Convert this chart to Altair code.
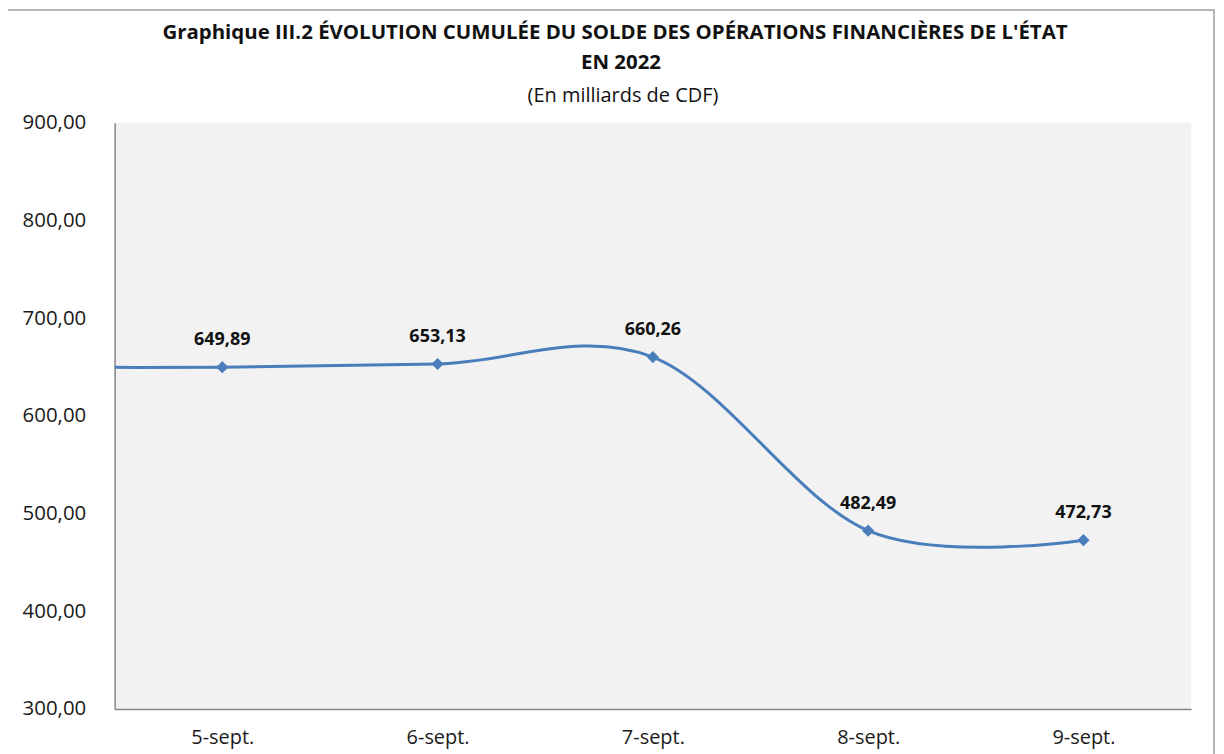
import json
import altair as alt
import pandas as pd

categories = ["5-sept.", "6-sept.", "7-sept.", "8-sept.", "9-sept."]
values = [649.89, 653.13, 660.26, 482.49, 472.73]
# the source curve enters from the left edge at the level of the first point
lead_in_value = 649.89
y_ticks = [300, 400, 500, 600, 700, 800, 900]
title_lines = ["Graphique III.2 ÉVOLUTION CUMULÉE DU SOLDE  DES OPÉRATIONS FINANCIÈRES DE L'ÉTAT",
               "EN 2022"]
subtitle = "(En milliards de CDF)"

idx = list(range(len(categories)))
pts = pd.DataFrame({"i": idx, "v": values, "cat": categories})
pts["lab"] = [f"{v:.2f}".replace(".", ",") for v in values]
line_df = pd.DataFrame({"i": [-1] + idx, "v": [lead_in_value] + values})

BLUE = "#4a7ebb"
W, H = 1080, 588
label_expr = json.dumps(categories) + "[datum.value]"

x = alt.X("i:Q", scale=alt.Scale(domain=[-0.5, 4.5], nice=False, zero=False),
          axis=alt.Axis(values=idx, labelExpr=label_expr, title=None, grid=False,
                        ticks=False, domainColor="#868686", domainWidth=1.5,
                        labelFont="Open Sans", labelFontSize=20, labelColor="#1a1a1a",
                        labelPadding=19, labelAngle=0))
y = alt.Y("v:Q", scale=alt.Scale(domain=[300, 900], nice=False, zero=False),
          axis=alt.Axis(values=y_ticks, labelExpr="replace(format(datum.value, '.2f'), '.', ',')",
                        title=None, grid=False, ticks=False, domainColor="#868686",
                        domainWidth=1.5, labelFont="Open Sans", labelFontSize=20.5,
                        labelColor="#1a1a1a", labelPadding=29))

line = alt.Chart(line_df).mark_line(interpolate="cardinal", color=BLUE, strokeWidth=3,
                                    clip=True).encode(x=x, y=y)
marks = alt.Chart(pts).mark_point(shape="diamond", filled=True, size=150, color=BLUE,
                                  opacity=1).encode(x=x, y=y)
labels = alt.Chart(pts).mark_text(font="Open Sans", fontWeight="bold", fontSize=18,
                                  color="#111111", dy=-27, baseline="middle").encode(
    x=x, y=y, text="lab:N")
frame = alt.Chart(pts).mark_rect(fill=None, stroke="#b3b3b3", strokeWidth=1.5,
                                 clip=False).encode(
    x=alt.value(-108), x2=alt.value(W + 23), y=alt.value(-113), y2=alt.value(H + 80))

title_df = pd.DataFrame({"t": title_lines, "xx": [502, 508], "yy": [-90, -60]})
sub_df = pd.DataFrame({"t": [subtitle], "xx": [510], "yy": [-27]})
titles = alt.Chart(title_df).mark_text(font="Open Sans", fontSize=20.5, fontWeight="bold",
                                       color="#111111", baseline="middle", align="center",
                                       clip=False).encode(
    x=alt.X("xx:Q", scale=None), y=alt.Y("yy:Q", scale=None), text="t:N")
subtitles = alt.Chart(sub_df).mark_text(font="Open Sans", fontSize=20, color="#111111",
                                        baseline="middle", align="center", clip=False).encode(
    x=alt.X("xx:Q", scale=None), y=alt.Y("yy:Q", scale=None), text="t:N")

chart = alt.layer(frame, line, marks, labels, titles, subtitles).properties(
    width=W, height=H,
    autosize=alt.AutoSizeParams(type="none"),
    padding={"left": 107, "top": 114, "right": 25, "bottom": 50},
    background="white",
).configure_view(fill="#f2f2f2", stroke=None)

chart.save("out.html", embed_options={"renderer": "svg", "actions": False})
